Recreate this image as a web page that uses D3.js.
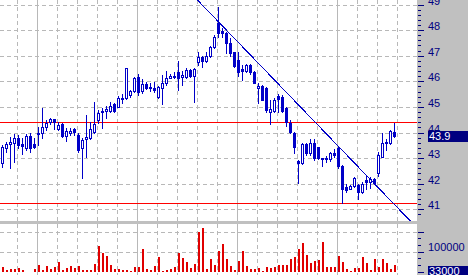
<!DOCTYPE html>
<html>
<head>
<meta charset="utf-8">
<script src="https://cdn.jsdelivr.net/npm/d3@7"></script>
<style>
html, body { margin: 0; padding: 0; background: #fff; overflow: hidden; }
svg { display: block; font-family: "Liberation Sans", Arial, sans-serif; }
</style>
</head>
<body>
<div id="chart"></div>
<script>
'use strict';
// daily bars, left to right
var opens = [42.82, 43.43, 43.58, 43.62, 43.82, 43.57, 43.43, 43.88, 43.57, 43.96,
    43.99, 44.22, 44.44, 44.55, 44.14, 44.35, 43.89, 44.01, 44.14, 43.92,
    43.40, 43.77, 43.79, 44.03, 44.51, 44.87, 44.84, 44.87, 45.12, 45.03,
    45.33, 45.35, 45.50, 45.64, 46.20, 45.64, 45.91, 45.75, 45.75, 45.39,
    45.75, 45.94, 46.16, 46.24, 46.39, 46.20, 46.20, 46.46, 46.23, 46.79,
    46.98, 46.82, 47.01, 47.34, 48.29, 48.00, 47.92, 47.53, 47.15, 46.84,
    46.49, 46.43, 46.67, 46.39, 45.75, 45.84, 45.75, 44.83, 44.86, 45.46,
    45.42, 44.99, 44.38, 43.99, 42.91, 42.82, 43.57, 43.21, 43.60, 43.44,
    43.03, 43.03, 42.97, 43.23, 43.43, 42.71, 41.90, 41.82, 41.93, 41.97,
    41.71, 42.16, 42.10, 42.19, 42.43, 43.07, 43.60, 43.60, 44.05];
var highs = [43.53, 43.66, 43.86, 43.95, 43.92, 43.79, 43.95, 43.99, 43.82, 44.22,
    44.99, 44.51, 44.57, 44.56, 44.44, 44.38, 44.18, 44.18, 44.18, 43.99,
    43.80, 44.70, 44.44, 45.22, 44.90, 44.96, 45.04, 45.21, 45.17, 45.45,
    45.54, 46.54, 45.68, 46.17, 46.29, 46.10, 45.99, 45.95, 45.99, 45.85,
    46.27, 46.42, 46.29, 46.39, 46.81, 46.42, 46.55, 46.50, 46.53, 47.15,
    47.02, 47.15, 47.41, 47.83, 48.93, 48.09, 47.96, 47.70, 47.18, 47.18,
    46.66, 46.70, 46.70, 46.43, 45.96, 45.88, 45.79, 45.29, 45.36, 45.52,
    45.48, 45.03, 44.51, 44.05, 42.95, 43.61, 43.60, 43.75, 43.75, 43.46,
    43.03, 43.10, 43.27, 43.36, 43.49, 42.75, 41.99, 41.97, 42.29, 41.99,
    42.10, 42.32, 42.29, 42.23, 43.27, 43.99, 43.75, 44.12, 44.40];
var lows = [42.68, 43.27, 42.62, 42.88, 43.43, 43.17, 43.34, 43.27, 43.40, 43.53,
    43.79, 44.12, 44.34, 44.14, 44.12, 43.86, 43.69, 43.92, 43.92, 43.27,
    42.25, 43.07, 43.75, 43.99, 44.38, 44.21, 44.59, 44.82, 44.82, 45.02,
    45.19, 45.33, 45.41, 45.60, 45.48, 45.56, 45.72, 45.66, 45.60, 45.36,
    45.12, 45.88, 46.14, 46.14, 45.68, 45.88, 46.14, 46.20, 45.20, 46.66,
    46.59, 46.79, 46.98, 47.31, 47.76, 47.74, 47.11, 47.01, 46.59, 46.23,
    46.07, 46.39, 46.30, 45.94, 45.18, 45.27, 44.83, 44.35, 44.82, 44.83,
    44.82, 44.27, 43.99, 43.21, 42.06, 42.79, 43.14, 43.14, 42.95, 42.97,
    42.71, 42.88, 42.92, 43.07, 42.62, 41.28, 41.71, 41.80, 41.90, 41.41,
    41.67, 41.80, 41.84, 42.04, 42.32, 43.05, 43.34, 43.57, 43.86];
var closes = [43.46, 43.56, 43.65, 43.82, 43.53, 43.50, 43.88, 43.43, 43.46, 44.01,
    44.22, 44.38, 44.54, 44.44, 44.31, 43.89, 44.08, 44.09, 44.05, 43.34,
    43.73, 43.84, 44.14, 44.34, 44.77, 44.81, 44.93, 45.05, 44.86, 45.38,
    45.38, 46.53, 45.64, 46.14, 45.61, 45.90, 45.77, 45.81, 45.67, 45.80,
    45.94, 46.14, 46.23, 46.18, 46.14, 46.27, 46.46, 46.23, 46.50, 46.98,
    46.81, 47.01, 47.35, 47.76, 47.92, 47.89, 47.53, 47.11, 46.63, 46.39,
    46.43, 46.66, 46.40, 45.96, 45.84, 45.29, 44.90, 44.93, 45.29, 45.33,
    44.86, 44.44, 44.05, 43.46, 42.82, 43.57, 43.22, 43.60, 43.01, 43.01,
    43.00, 42.97, 43.23, 43.14, 42.71, 41.80, 41.77, 41.93, 42.23, 41.71,
    42.01, 42.10, 42.19, 42.06, 43.14, 43.60, 43.66, 44.09, 43.90];
var volumes = [23500, 11500, 16500, 16500, 18500, 11500, 0, 0, 16500, 36500,
    11500, 31500, 15000, 26500, 51500, 11500, 21500, 31500, 18500, 31500,
    11500, 11500, 11500, 41500, 131500, 93500, 81500, 36500, 16500, 16500,
    11500, 8500, 6500, 26500, 26500, 116500, 16500, 11500, 31500, 76500,
    3500, 11500, 16500, 26500, 93500, 71500, 51500, 21500, 41500, 198500,
    221500, 16500, 66500, 36500, 106500, 141500, 66500, 31500, 11500, 56500,
    106500, 31500, 16500, 16500, 21500, 6500, 26500, 21500, 26500, 36500,
    36500, 36500, 66500, 76500, 116500, 146500, 86500, 46500, 56500, 61500,
    151500, 26500, 26500, 26500, 81500, 51500, 16500, 6500, 21500, 21500,
    76500, 46500, 11500, 66500, 26500, 66500, 46500, 16500, 33000];

var priceTicks = [41, 42, 43, 44, 45, 46, 47, 48, 49];
var volumeLabels = [100000];
var levels = [44.42, 41.24];          // horizontal red lines
var trendIdx = [50, 100];             // falling trend line, two anchor bars
var trendPrice = [48.99, 40.88];
var lastPrice = '43.9';
var lastVolume = '33000';

var width = 468, height = 275,
    plotW = 417,
    priceBottom = 221,
    volTop = 224;
var blue = '#0000c8', navy = '#000080', gridColor = '#b8b8b8', panelGray = '#c0c0c0';

var x = d3.scaleLinear().domain([0, 98]).range([2.5, 394.5]);
var y = d3.scaleLinear().domain([41, 49]).range([209.8, 5]);
var yv = d3.scaleLinear().domain([0, 200000]).range([272, 232]);

var svg = d3.select('#chart').append('svg')
    .attr('width', width)
    .attr('height', height);

svg.append('rect').attr('width', width).attr('height', height).attr('fill', '#fff');

svg.append('clipPath').attr('id', 'priceClip')
    .append('rect').attr('x', 0).attr('y', 0).attr('width', plotW).attr('height', priceBottom);

// grid
var grid = svg.append('g').attr('class', 'grid').attr('shape-rendering', 'crispEdges');
d3.range(0, 20).forEach(function (k) {
    var gx = Math.floor(x(3.75 + 5 * k)) + 0.5;
    if (gx > plotW) return;
    grid.append('line')
        .attr('x1', gx).attr('x2', gx).attr('y1', 0).attr('y2', height)
        .attr('stroke', gridColor)
        .attr('stroke-dasharray', k % 5 === 1 ? null : '4,3');
});
priceTicks.forEach(function (p) {
    var gy = Math.floor(y(p)) + 0.5;
    grid.append('line')
        .attr('x1', 0).attr('x2', plotW).attr('y1', gy).attr('y2', gy)
        .attr('stroke', gridColor).attr('stroke-dasharray', '4,3');
});
[100000, 200000].forEach(function (v) {
    var gy = Math.floor(yv(v)) + 0.5;
    grid.append('line')
        .attr('x1', 0).attr('x2', plotW).attr('y1', gy).attr('y2', gy)
        .attr('stroke', gridColor).attr('stroke-dasharray', '4,3');
});

// panel separator
svg.append('rect')
    .attr('x', 0).attr('y', priceBottom).attr('width', plotW).attr('height', volTop - priceBottom)
    .attr('fill', panelGray);

// red levels
svg.append('g').selectAll('line').data(levels).enter().append('line')
    .attr('x1', 0).attr('x2', plotW)
    .attr('y1', function (d) { return Math.floor(y(d)) + 0.5; })
    .attr('y2', function (d) { return Math.floor(y(d)) + 0.5; })
    .attr('stroke', '#ff0000')
    .attr('shape-rendering', 'crispEdges');

// candles
var bars = d3.range(opens.length).map(function (i) {
    return { i: i, o: opens[i], h: highs[i], l: lows[i], c: closes[i], v: volumes[i] };
});
var candles = svg.append('g').attr('class', 'candles').attr('shape-rendering', 'crispEdges');
var item = candles.selectAll('g.bar').data(bars).enter().append('g').attr('class', 'bar');
item.append('line')
    .attr('x1', function (d) { return x(d.i); })
    .attr('x2', function (d) { return x(d.i); })
    .attr('y1', function (d) { return Math.round(y(d.h)); })
    .attr('y2', function (d) { return Math.round(y(d.l)) + 1; })
    .attr('stroke', blue);
item.append('rect')
    .attr('x', function (d) { return x(d.i) - 1; })
    .attr('y', function (d) { return Math.round(y(Math.max(d.o, d.c))) + 0.5; })
    .attr('width', 2)
    .attr('height', function (d) {
        return Math.max(1, Math.round(y(Math.min(d.o, d.c))) - Math.round(y(Math.max(d.o, d.c))));
    })
    .attr('fill', function (d) { return d.c >= d.o ? '#fff' : blue; })
    .attr('stroke', blue);

// trend line
var tSlope = (trendPrice[1] - trendPrice[0]) / (trendIdx[1] - trendIdx[0]);
var tStart = 40, tEnd = 110;
svg.append('line')
    .attr('clip-path', 'url(#priceClip)')
    .attr('x1', x(tStart)).attr('y1', y(trendPrice[0] + (tStart - trendIdx[0]) * tSlope))
    .attr('x2', x(tEnd)).attr('y2', y(trendPrice[0] + (tEnd - trendIdx[0]) * tSlope))
    .attr('stroke', blue)
    .attr('stroke-width', 1)
    .attr('shape-rendering', 'crispEdges');

// volume
svg.append('g').attr('shape-rendering', 'crispEdges')
    .selectAll('rect').data(bars).enter().append('rect')
    .attr('x', function (d) { return x(d.i) - 0.5; })
    .attr('y', function (d) { return yv(d.v); })
    .attr('width', 2)
    .attr('height', function (d) { return yv(0) - yv(d.v); })
    .attr('fill', '#e00000');

// right scale panel
var axis = svg.append('g').attr('class', 'axis');
axis.append('rect')
    .attr('x', plotW).attr('y', 0).attr('width', width - plotW).attr('height', height)
    .attr('fill', panelGray);

var minor = d3.range(204, 247).map(function (k) { return k / 5; });
axis.append('g').attr('shape-rendering', 'crispEdges')
    .selectAll('line').data(minor).enter().append('line')
    .attr('x1', plotW + 1)
    .attr('x2', function (d) { return Math.abs(d - Math.round(d)) < 0.01 ? plotW + 7 : plotW + 4; })
    .attr('y1', function (d) { return Math.floor(y(d)) + 0.5; })
    .attr('y2', function (d) { return Math.floor(y(d)) + 0.5; })
    .attr('stroke', navy);

axis.append('g').selectAll('text').data(priceTicks).enter().append('text')
    .attr('x', 428)
    .attr('y', function (d) { return Math.floor(y(d)); })
    .attr('fill', navy)
    .attr('font-size', 11)
    .text(function (d) { return d; });

var volMinor = d3.range(0, 7).map(function (k) { return k * 100000 / 3; });
axis.append('g').attr('shape-rendering', 'crispEdges')
    .selectAll('line').data(volMinor).enter().append('line')
    .attr('x1', plotW + 1)
    .attr('x2', function (d, k) { return k % 3 === 0 ? plotW + 7 : plotW + 4; })
    .attr('y1', function (d) { return Math.floor(yv(d)) + 0.5; })
    .attr('y2', function (d) { return Math.floor(yv(d)) + 0.5; })
    .attr('stroke', navy);

axis.append('g').selectAll('text').data(volumeLabels).enter().append('text')
    .attr('x', 428)
    .attr('y', function (d) { return yv(d) - 1; })
    .attr('fill', navy)
    .attr('font-size', 11)
    .text(function (d) { return d; });

// current value boxes
var pTop = Math.round(y(+lastPrice)) - 5;
axis.append('rect').attr('x', 428).attr('y', pTop).attr('width', width - 428).attr('height', 11)
    .attr('fill', navy);
axis.append('text').attr('x', 429).attr('y', pTop + 9).attr('fill', '#fff')
    .attr('font-size', 11).text(lastPrice);

var vTop = Math.round(yv(+lastVolume)) + 1;
axis.append('rect').attr('x', 428).attr('y', vTop).attr('width', width - 428).attr('height', 11)
    .attr('fill', navy);
axis.append('text').attr('x', 429).attr('y', vTop + 9).attr('fill', '#fff')
    .attr('font-size', 11).text(lastVolume);
</script>
</body>
</html>
